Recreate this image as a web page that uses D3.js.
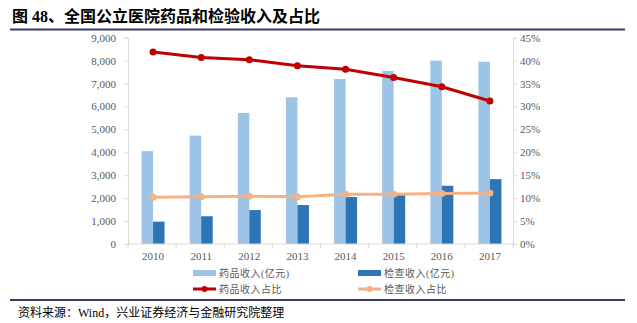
<!DOCTYPE html>
<html><head><meta charset="utf-8">
<script src="https://cdn.jsdelivr.net/npm/d3@7"></script>
<style>
body{margin:0;background:#fff;}
svg{display:block;}
</style></head>
<body>
<svg id="c" width="637" height="323"></svg>
<script>
const years = ["2010","2011","2012","2013","2014","2015","2016","2017"];
const drugRevenue = [4050, 4730, 5720, 6400, 7200, 7550, 8000, 7950];
const testRevenue = [975, 1210, 1480, 1700, 2050, 2220, 2540, 2830];
const drugShare = [41.9, 40.7, 40.2, 38.9, 38.1, 36.3, 34.3, 31.2];
const testShare = [10.2, 10.3, 10.4, 10.3, 10.85, 10.85, 11.0, 11.1];
const leftTicks = [0,1000,2000,3000,4000,5000,6000,7000,8000,9000];
const rightTicks = [0,5,10,15,20,25,30,35,40,45];
const title = "图 48、全国公立医院药品和检验收入及占比";
const source = "资料来源：Wind，兴业证券经济与金融研究院整理";
const legendLabels = ["药品收入(亿元)","检查收入(亿元)","药品收入占比","检查收入占比"];

const svg = d3.select("#c");
const serif = "'Liberation Serif','Times New Roman',serif";
const cjk = "'Liberation Serif','Noto Sans CJK SC',serif";

// title and rules
svg.append("text").attr("x",12).attr("y",22).attr("font-family",cjk)
  .attr("font-size",16).attr("font-weight","bold").attr("fill","#000").text(title);
svg.append("line").attr("x1",10).attr("x2",625).attr("y1",29.5).attr("y2",29.5)
  .attr("stroke","#3b3b6b").attr("stroke-width",2);
svg.append("line").attr("x1",10).attr("x2",625).attr("y1",300).attr("y2",300)
  .attr("stroke","#3b3b6b").attr("stroke-width",2);
svg.append("text").attr("x",18).attr("y",317).attr("font-family",cjk)
  .attr("font-size",12).attr("fill","#000").text(source);

const x0 = 128, x1 = 513, yTop = 37.7, yBot = 244;
const x = d3.scaleBand().domain(years).range([x0,x1]);
const yL = d3.scaleLinear().domain([0,9000]).range([yBot,yTop]);
const yR = d3.scaleLinear().domain([0,45]).range([yBot,yTop]);
const barW = 11.5;

const gray = "#d9d9d9";
// left axis
const la = svg.append("g").attr("transform",`translate(${x0},0)`)
  .call(d3.axisLeft(yL).tickValues(leftTicks).tickSize(4).tickFormat(d3.format(",")));
la.select(".domain").attr("stroke",gray);
la.selectAll(".tick line").attr("stroke",gray);
la.selectAll("text").attr("font-family",serif).attr("font-size",11).attr("fill","#595959").attr("x",-12);

// right axis
const ra = svg.append("g").attr("transform",`translate(${x1},0)`)
  .call(d3.axisRight(yR).tickValues(rightTicks).tickSize(4).tickFormat(d=>d+"%"));
ra.select(".domain").attr("stroke",gray);
ra.selectAll(".tick line").attr("stroke",gray);
ra.selectAll("text").attr("font-family",serif).attr("font-size",11).attr("fill","#595959").attr("x",7);

// bars
svg.append("g").selectAll("rect").data(years).join("rect")
  .attr("x",(d)=>x(d)+x.bandwidth()/2-barW+1)
  .attr("width",barW)
  .attr("y",(d,i)=>yL(drugRevenue[i]))
  .attr("height",(d,i)=>yBot-yL(drugRevenue[i]))
  .attr("fill","#9dc3e6");
svg.append("g").selectAll("rect").data(years).join("rect")
  .attr("x",(d)=>x(d)+x.bandwidth()/2+1)
  .attr("width",barW)
  .attr("y",(d,i)=>yL(testRevenue[i]))
  .attr("height",(d,i)=>yBot-yL(testRevenue[i]))
  .attr("fill","#2e75b6");

// x axis
const xa = svg.append("g").attr("transform",`translate(0,${yBot})`);
xa.append("line").attr("x1",x0).attr("x2",x1).attr("stroke",gray);
xa.selectAll("line.t").data(years.concat(["end"])).join("line").attr("class","t")
  .attr("x1",(d,i)=>x0+i*x.bandwidth()).attr("x2",(d,i)=>x0+i*x.bandwidth())
  .attr("y1",0).attr("y2",4).attr("stroke",gray);
xa.selectAll("text").data(years).join("text")
  .attr("x",d=>x(d)+x.bandwidth()/2+1).attr("y",16).attr("text-anchor","middle")
  .attr("font-family",serif).attr("font-size",11).attr("fill","#595959").text(d=>d);

// lines
const cx = d=>x(d)+x.bandwidth()/2+1;
function drawLine(vals,color,r){
  const line = d3.line().x((d,i)=>cx(years[i])).y(d=>yR(d));
  svg.append("path").datum(vals).attr("d",line).attr("fill","none")
    .attr("stroke",color).attr("stroke-width",3);
  svg.append("g").selectAll("circle").data(vals).join("circle")
    .attr("cx",(d,i)=>cx(years[i])).attr("cy",d=>yR(d)).attr("r",r).attr("fill",color);
}
drawLine(testShare,"#f4b183",3.5);
drawLine(drugShare,"#c00000",3.5);

// legend
const leg = [
  {x:193,y:273,type:"bar",color:"#9dc3e6",label:legendLabels[0]},
  {x:358,y:273,type:"bar",color:"#2e75b6",label:legendLabels[1]},
  {x:193,y:289,type:"line",color:"#c00000",label:legendLabels[2]},
  {x:358,y:289,type:"line",color:"#f4b183",label:legendLabels[3]}
];
const lg = svg.append("g");
leg.forEach(l=>{
  if(l.type==="bar"){
    lg.append("rect").attr("x",l.x).attr("y",l.y-3).attr("width",23).attr("height",6).attr("fill",l.color);
  } else {
    lg.append("line").attr("x1",l.x).attr("x2",l.x+23).attr("y1",l.y).attr("y2",l.y).attr("stroke",l.color).attr("stroke-width",3);
    lg.append("circle").attr("cx",l.x+11.5).attr("cy",l.y).attr("r",3).attr("fill",l.color);
  }
  lg.append("text").attr("x",l.x+26).attr("y",l.y+4).attr("font-family",cjk)
    .attr("font-size",10).attr("letter-spacing",0.5).attr("fill","#595959").text(l.label);
});
</script>
</body></html>
